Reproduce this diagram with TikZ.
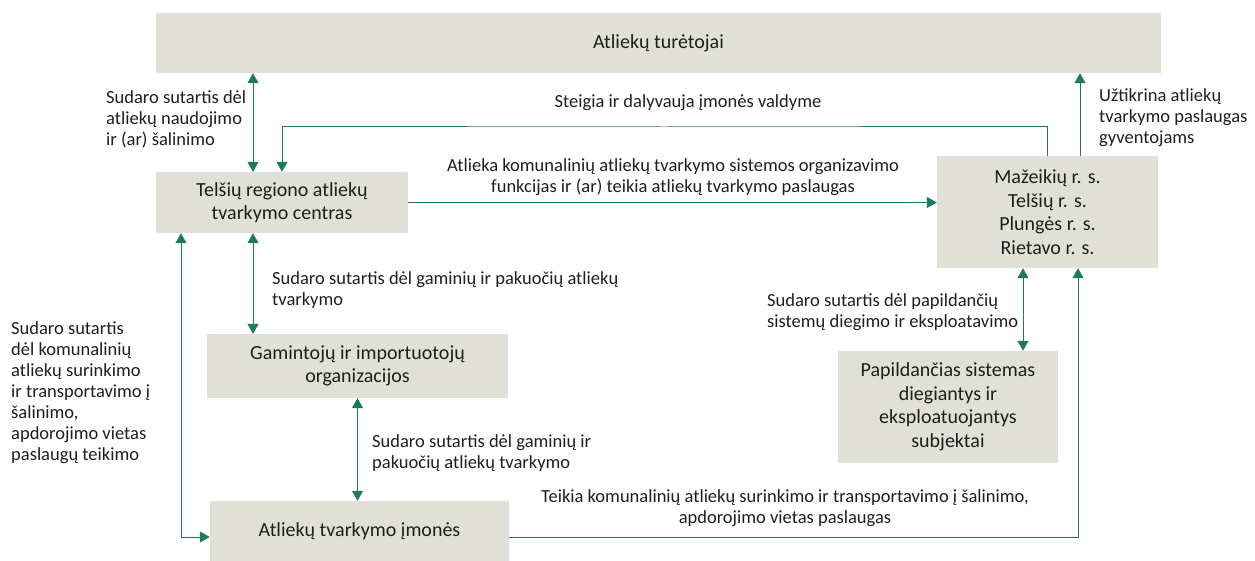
\documentclass[tikz,border=0pt]{standalone}
\usepackage{fontspec}
\setmainfont{Carlito}
\usetikzlibrary{arrows.meta}
\definecolor{boxgray}{RGB}{225,224,214}
\definecolor{linkgreen}{RGB}{30,122,92}
\definecolor{inkgray}{RGB}{30,30,30}

\begin{document}
\begin{tikzpicture}[x=1pt, y=-1pt,
    box/.style={fill=boxgray, inner sep=0pt, align=center, text=inkgray,
                font=\fontsize{20}{23.5}\selectfont},
    link/.style={draw=linkgreen, line width=1pt, -{Triangle[width=11pt,length=10pt]}},
    twoway/.style={link, {Triangle[width=11pt,length=10pt]}-{Triangle[width=11pt,length=10pt]}},
    lbl/.style={inner sep=0pt, text=inkgray, font=\fontsize{18.5}{21}\selectfont}]
                \useasboundingbox (0,0) rectangle (1255,561);

                % Boxes
                \node[box, minimum width=1005pt, minimum height=60pt] (holders) at (658.5,43) {Atliekų turėtojai};
                \node[box, minimum width=252pt, minimum height=61pt] (centre) at (282,202.5) {Telšių regiono atliekų\\tvarkymo centras};
                \node[box, minimum width=221pt, minimum height=112pt] (munic) at (1047.5,212) {Mažeikių r. s.\\Telšių r. s.\\Plungės r. s.\\Rietavo r. s.};
                \node[box, minimum width=301pt, minimum height=64pt] (producers) at (357.5,366) {Gamintojų ir importuotojų\\organizacijos};
                \node[box, minimum width=220pt, minimum height=112pt] (addsys) at (948,407) {Papildančias sistemas\\diegiantys ir\\eksploatuojantys\\subjektai};
                \node[box, minimum width=299pt, minimum height=60pt] (firms) at (359.5,531) {Atliekų tvarkymo įmonės};

                % Connectors
                \coordinate (steer) at (664,127);
                \draw[twoway] ([xshift=-29pt]centre.north) -- ([xshift=-29pt]centre.north |- holders.south);
                \draw[link] (munic.north) |- (steer) -| (centre.north);
                \draw[link] (centre.east) -- (centre.east -| munic.west);
                \draw[link] ([xshift=32.5pt]munic.north) -- ([xshift=32.5pt]munic.north |- holders.south);
                \draw[twoway] ([xshift=-29pt]centre.south) -- ([xshift=-29pt]centre.south |- producers.north);
                \draw[twoway] ([xshift=-101pt]centre.south) |- ([yshift=-6pt]firms.west);
                \draw[twoway] (producers.south) -- (producers.south |- firms.north);
                \draw[twoway] ([xshift=75pt]addsys.north) -- ([xshift=75pt]addsys.north |- munic.south);
                \draw[link] ([yshift=-6pt]firms.east) -| ([xshift=30.5pt]munic.south);

                % Labels
                \node[lbl, anchor=west, align=left] (lbluse) at (106,119) {Sudaro sutartis dėl\\atliekų naudojimo\\ir (ar) šalinimo};
                \node[lbl] (lblsteer) at (688,103) {Steigia ir dalyvauja įmonės valdyme};
                \node[lbl, align=center] (lblorg) at (673,177) {Atlieka komunalinių atliekų tvarkymo sistemos organizavimo\\funkcijas ir (ar) teikia atliekų tvarkymo paslaugas};
                \node[lbl, anchor=west, align=left] (lblserve) at (1099,118) {Užtikrina atliekų\\tvarkymo paslaugas\\gyventojams};
                \node[lbl, anchor=west, align=left] (lblpack) at (272,290) {Sudaro sutartis dėl gaminių ir pakuočių atliekų\\tvarkymo};
                \node[lbl, anchor=west, align=left] (lblpackb) at (372,453.5) {Sudaro sutartis dėl gaminių ir\\pakuočių atliekų tvarkymo};
                \node[lbl, anchor=west, align=left] (lblcontract) at (11,392.5) {Sudaro sutartis\\dėl komunalinių\\atliekų surinkimo\\ir transportavimo į\\šalinimo,\\apdorojimo vietas\\paslaugų teikimo};
                \node[lbl, anchor=west, align=left] (lbladd) at (767,312) {Sudaro sutartis dėl papildančių\\sistemų diegimo ir eksploatavimo};
                \node[lbl, align=center] (lblcollect) at (785,508) {Teikia komunalinių atliekų surinkimo ir transportavimo į šalinimo,\\apdorojimo vietas paslaugas};
            \end{tikzpicture}
\end{document}
